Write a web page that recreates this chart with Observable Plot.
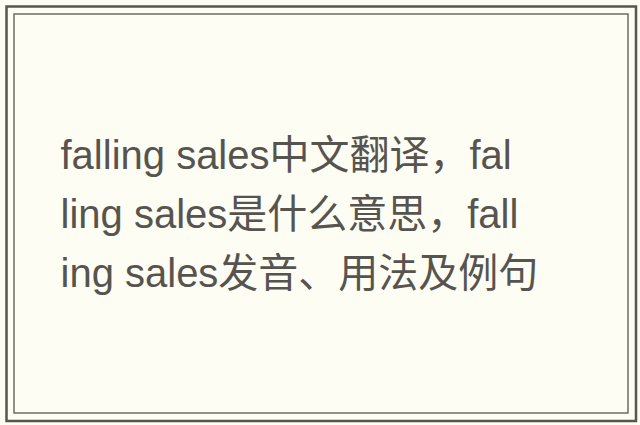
<!DOCTYPE html>
<html>
<head>
<meta charset="utf-8">
<script src="https://cdn.jsdelivr.net/npm/d3@7"></script>
<script src="https://cdn.jsdelivr.net/npm/@observablehq/plot@0.6"></script>
<style>
  html, body { margin: 0; padding: 0; background: #fdfdf4; }
  #chart { width: 640px; height: 425px; }
</style>
</head>
<body>
<div id="chart"></div>
<script>
const lines = [
  "falling sales中文翻译，fal",
  "ling sales是什么意思，fall",
  "ing sales发音、用法及例句"
];
const lineIndex = [0, 1, 2];

const data = lineIndex.map(i => ({i, text: lines[i]}));

const chart = Plot.plot({
  width: 640,
  height: 425,
  margin: 0,
  style: {background: "#fdfdf4", fontFamily: "'Liberation Sans', 'Noto Sans CJK SC', sans-serif"},
  x: {axis: null},
  y: {type: "point", domain: lineIndex, range: [168, 286], padding: 0, axis: null},
  marks: [
    Plot.frame({insetLeft: 6, insetTop: 6, insetRight: 4.5, insetBottom: 4.5, stroke: "#58574f", strokeWidth: 2.5}),
    Plot.frame({insetLeft: 13.5, insetTop: 13.5, insetRight: 12.5, insetBottom: 12.5, stroke: "#58574f", strokeWidth: 1.3}),
    Plot.text(data, {
      y: "i",
      text: "text",
      frameAnchor: "left",
      textAnchor: "start",
      lineAnchor: "bottom",
      dx: 60,
      fontSize: 40,
      fill: "#57544f"
    })
  ]
});
document.getElementById("chart").appendChild(chart);
</script>
</body>
</html>
